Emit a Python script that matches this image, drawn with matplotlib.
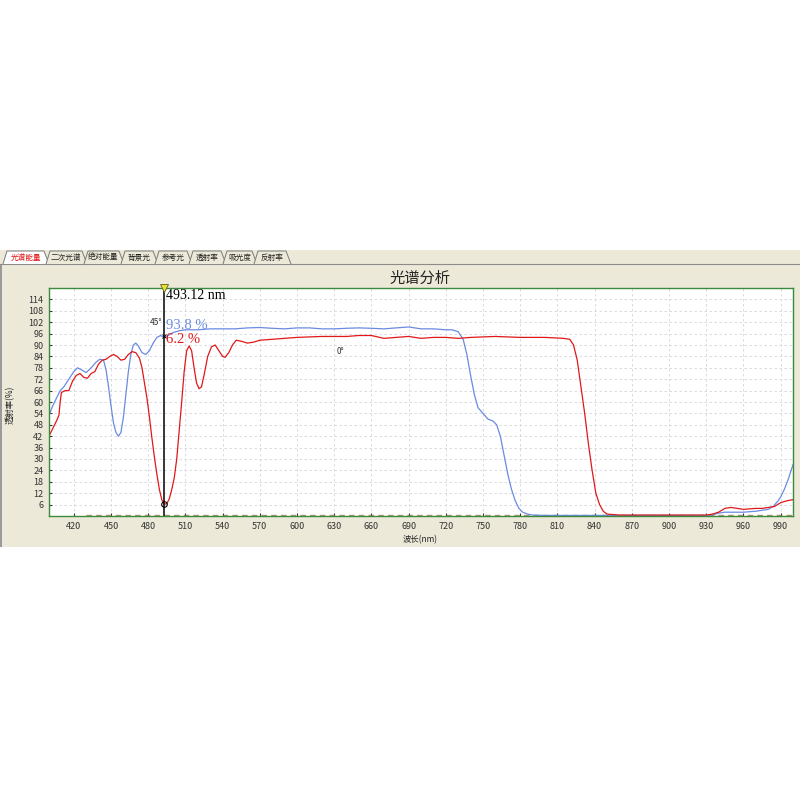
import numpy as np
import matplotlib.pyplot as plt
from matplotlib.patches import Rectangle, Polygon

plt.rcParams['font.family'] = ['Noto Sans CJK SC', 'DejaVu Sans']

# 45 degree curve (blue)
wl_45 = [400, 403, 406, 409, 412, 416, 420, 423, 426, 430, 434, 438, 441, 444, 446, 448,
         450, 452, 454, 456, 458, 460, 462, 464, 466, 468, 470, 472, 475, 478, 481, 484,
         487, 490, 493, 496, 500, 505, 510, 520, 530, 540, 550, 560, 570, 580, 590, 600,
         610, 620, 630, 640, 650, 660, 670, 680, 690, 700, 710, 720, 725, 730, 734, 737,
         740, 743, 746, 750, 754, 758, 761, 764, 767, 770, 773, 776, 779, 782, 786, 790,
         800, 850, 900, 930, 935, 940, 945, 950, 960, 970, 975, 980, 984, 988, 990, 993,
         996, 1000]
t_45 = [53, 58, 62, 66, 68, 72, 76, 78, 77, 75.5, 78, 81, 82.5, 82, 77, 68,
        58, 49, 44, 42, 44, 52, 64, 76, 85, 90, 91, 89.5, 86, 85, 87, 91,
        94, 95, 94, 95, 96.5, 97.5, 98, 98, 98.5, 98.5, 98.5, 99, 99.2, 98.8, 98.5, 99,
        99, 98.5, 98.5, 98.8, 99, 98.8, 98.5, 99, 99.5, 98.5, 98.5, 98, 98, 97, 93, 85,
        74, 64, 57, 54, 51, 50, 48, 42, 32, 22, 14, 8, 4, 2, 1, 0.5,
        0.3, 0.3, 0.3, 0.3, 0.6, 1.5, 2, 2, 2, 2.5, 3, 3.5, 5, 8, 10, 14,
        19, 27]

# 0 degree curve (red)
wl_0 = [400, 403, 406, 408, 409, 410, 413, 416, 419, 422, 425, 428, 431, 434, 437, 440,
        443, 446, 449, 452, 455, 458, 461, 464, 467, 470, 473, 475, 477, 479, 481, 483,
        485, 487, 489, 491, 493, 495, 497, 499, 501, 503, 505, 507, 509, 511, 513, 515,
        517, 519, 521, 523, 525, 528, 531, 534, 537, 540, 542, 545, 548, 551, 555, 560,
        565, 570, 580, 590, 600, 620, 640, 650, 660, 670, 680, 690, 700, 710, 720, 730,
        740, 760, 780, 800, 815, 820, 823, 826, 829, 832, 835, 838, 841, 844, 847, 850,
        860, 930, 935, 940, 945, 950, 955, 960, 970, 975, 980, 985, 990, 995, 1000]
t_0 = [42, 46, 50, 53, 60, 65, 66, 66, 71, 74, 75, 73, 72.5, 75, 76, 80,
       82, 82.5, 84, 85, 84, 82, 82.5, 85, 86.5, 86, 83, 78, 70, 62, 52, 41,
       31, 22, 14, 8.5, 6.2, 6.5, 9, 14, 20, 30, 45, 60, 76, 87, 89.5, 87,
       78, 70, 67, 68, 74, 84, 89, 90, 87, 84, 83.5, 86, 90, 92.5, 92, 91,
       91.5, 92.5, 93, 93.5, 94, 94.5, 94.5, 95, 95, 93.5, 94, 94.5, 93.5, 94, 94, 93.5,
       94, 94.5, 94, 94, 93.5, 93, 90, 82, 68, 54, 38, 24, 12, 6, 2.5, 1,
       0.5, 0.5, 1, 2, 4, 4.5, 4, 3.5, 4, 4, 4.5, 5, 7, 8, 8.6]

# near-zero dark series
wl_dark = [430, 1000]
t_dark = [0.4, 0.4]

cursor_wl = 493.12
cursor_45 = 93.8
cursor_0 = 6.2

x_ticks = list(range(420, 1000, 30))
y_ticks = list(range(6, 120, 6))
tabs = ['光谱能量', '二次光谱', '绝对能量', '背景光', '参考光', '透射率', '吸光度', '反射率']

fig = plt.figure(figsize=(8, 8), dpi=100)
fig.patch.set_facecolor('white')

# beige window panel
beige = '#ECE9D8'
fig.patches.append(Rectangle((0, 1 - 547/800), 1, (547 - 250)/800, transform=fig.transFigure,
                             facecolor=beige, edgecolor='none', zorder=-2))
fig.patches.append(Rectangle((0, 1 - 547/800), 0.003, (547 - 265)/800, transform=fig.transFigure,
                             facecolor='#9a9a9a', edgecolor='none', zorder=-1))

# tab strip
tab_edges = [3, 46, 84, 121, 155, 189, 223, 254, 288]
base_y = 1 - 264/800
top_y = 1 - 251/800
fig.lines.append(plt.Line2D([0, 1], [base_y, base_y], transform=fig.transFigure,
                            color='#8c8c8c', lw=0.8, zorder=-1))
for i, name in enumerate(tabs):
    x0 = tab_edges[i] / 800
    x1 = tab_edges[i + 1] / 800
    poly = Polygon([(x0, base_y), (x0 + 4/800, top_y), (x1 - 2/800, top_y), (x1 + 3/800, base_y)],
                   closed=False, transform=fig.transFigure, facecolor='white' if i == 0 else beige,
                   edgecolor='#7a7a7a', lw=0.7, zorder=-1)
    fig.patches.append(poly)
    fig.text((x0 + x1) / 2 + 1/800, (base_y + top_y) / 2, name, ha='center', va='center',
             fontsize=5.5, color='#e01010' if i == 0 else '#222222')

fig.text(420/800, 1 - 278/800, '光谱分析', ha='center', va='center', fontsize=11, color='#222222')

ax = fig.add_axes([49/800, 1 - 516/800, (793 - 49)/800, (516 - 288)/800])
ax.set_zorder(3)
ax.set_facecolor('white')

ax.plot(wl_dark, t_dark, color='#8a6a3a', lw=1.0, ls=(0, (4, 3)), alpha=0.7)
ax.plot(wl_45, t_45, color='#6b8ae0', lw=0.9)
ax.plot(wl_0, t_0, color='#e01818', lw=0.9)

ax.set_xlim(400, 1000)
ax.set_ylim(0, 120)
ax.set_xticks(x_ticks)
ax.set_yticks(y_ticks)
ax.grid(True, color='#d4d4de', ls=(0, (3, 3)), lw=0.6)
ax.tick_params(labelsize=6.5, colors='#333333', length=2, direction='in', pad=4)
for sp in ax.spines.values():
    sp.set_color('#3c8a3c')
    sp.set_linewidth(1.0)

# cursor
ax.axvline(cursor_wl, color='black', lw=1.1)
ax.plot([cursor_wl], [120], marker='v', ms=6, color='#e8e030', mec='#606020', mew=0.6,
        clip_on=False, zorder=5)
ax.plot([cursor_wl], [cursor_0], marker='o', ms=4, mfc='none', mec='black', mew=0.8, zorder=5)
ax.plot([cursor_wl], [95], marker='x', ms=3, color='black', mew=0.6, zorder=5)
ax.text(cursor_wl + 1.5, 116, '%.2f nm' % cursor_wl, fontsize=10, family='Liberation Serif',
        color='black', va='center')
ax.text(cursor_wl - 1.5, 102, '45°', fontsize=6, color='#333333', ha='right', va='center')
ax.text(cursor_wl + 1.5, 100.5, '%.1f %%' % cursor_45, fontsize=10.5, family='Liberation Serif',
        color='#6b8ae0', va='center')
ax.text(cursor_wl + 1.5, 93, '%.1f %%' % cursor_0, fontsize=10.5, family='Liberation Serif',
        color='#e01818', va='center')
ax.text(635, 86.5, '0°', fontsize=6, color='#333333', ha='center', va='center')

fig.text(10/800, 1 - 405/800, '透射率(%)', rotation=90, ha='center', va='center',
         fontsize=6, color='#222222')
fig.text(420/800, 1 - 540/800, '波长(nm)', ha='center', va='center', fontsize=6, color='#222222')

fig.savefig('out.png', dpi=100)
